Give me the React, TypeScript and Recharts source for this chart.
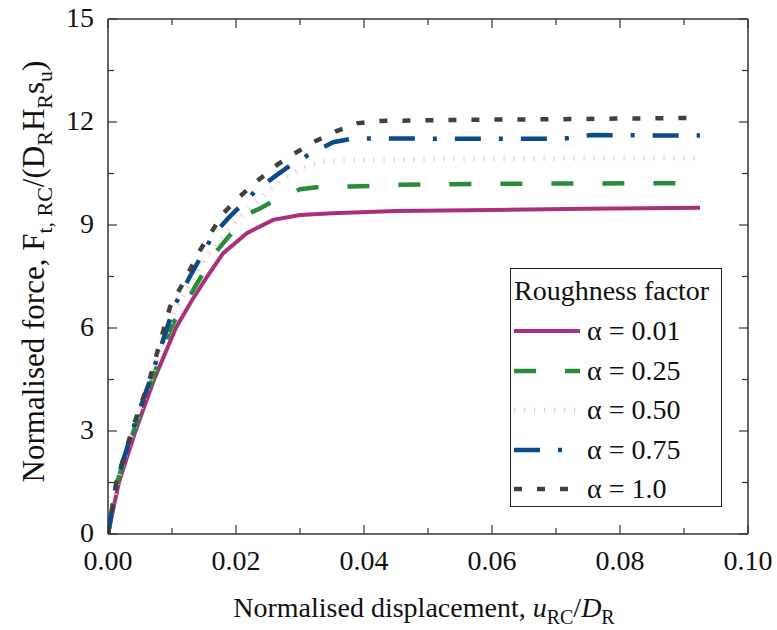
import React from "react";
import { LineChart, Line, XAxis, YAxis, Legend } from "recharts";

// tick values (majors get labels, the rest are minor ticks)
const xTicks = [0, 0.01, 0.02, 0.03, 0.04, 0.05, 0.06, 0.07, 0.08, 0.09, 0.1];
const yTicks = [0, 1.5, 3, 4.5, 6, 7.5, 9, 10.5, 12, 13.5, 15];

// alpha = 0.01
const disp001 = [0, 0.0017, 0.0043, 0.0072, 0.0106, 0.0131, 0.0155, 0.018, 0.0217, 0.0258, 0.03, 0.035, 0.045, 0.06, 0.075, 0.0925];
const force001 = [0, 1.5, 3.0, 4.5, 6.0, 6.8, 7.5, 8.18, 8.76, 9.15, 9.29, 9.34, 9.41, 9.44, 9.47, 9.5];

// alpha = 0.25
const disp025 = [0, 0.0014, 0.004, 0.0069, 0.0095, 0.0103, 0.0133, 0.0167, 0.0188, 0.0222, 0.0238, 0.0253, 0.03, 0.0326, 0.038, 0.0456, 0.06, 0.075, 0.0925];
const force025 = [0, 1.5, 3.0, 4.5, 5.85, 6.18, 7.1, 8.18, 8.65, 9.35, 9.49, 9.64, 10.04, 10.1, 10.12, 10.17, 10.2, 10.21, 10.22];

// alpha = 0.50
const disp050 = [0, 0.0014, 0.0039, 0.0067, 0.01, 0.0125, 0.0154, 0.0206, 0.0245, 0.0274, 0.0305, 0.0336, 0.0383, 0.045, 0.06, 0.08, 0.0925];
const force050 = [0, 1.5, 3.0, 4.5, 6.3, 7.2, 8.08, 9.24, 9.9, 10.36, 10.66, 10.85, 10.89, 10.9, 10.93, 10.95, 10.96];

// alpha = 0.75
const disp075 = [0, 0.0013, 0.0038, 0.0066, 0.0103, 0.0128, 0.0164, 0.0188, 0.0232, 0.0264, 0.029, 0.0318, 0.0352, 0.0383, 0.0456, 0.055, 0.065, 0.0714, 0.0755, 0.085, 0.0925];
const force075 = [0, 1.5, 3.0, 4.5, 6.62, 7.5, 8.7, 9.2, 10.02, 10.46, 10.8, 11.09, 11.41, 11.52, 11.52, 11.51, 11.51, 11.52, 11.62, 11.61, 11.61];

// alpha = 1.0
const disp100 = [0, 0.0013, 0.0037, 0.0065, 0.0097, 0.0113, 0.0144, 0.018, 0.0206, 0.0235, 0.0264, 0.0292, 0.0323, 0.0355, 0.0389, 0.0425, 0.05, 0.06, 0.07, 0.08, 0.0925];
const force100 = [0, 1.5, 3.0, 4.5, 6.62, 7.16, 8.27, 9.34, 9.83, 10.31, 10.75, 11.09, 11.43, 11.72, 11.96, 12.03, 12.05, 12.07, 12.08, 12.1, 12.12];

const labels = ["α = 0.01", "α = 0.25", "α = 0.50", "α = 0.75", "α = 1.0"];

const toPoints = (xs: number[], ys: number[]) => xs.map((x, i) => ({ x, y: ys[i] }));

const series = [
  { name: labels[0], data: toPoints(disp001, force001), color: "#a8327a", width: 4, dash: undefined },
  { name: labels[1], data: toPoints(disp025, force025), color: "#2a8c3a", width: 4.5, dash: "22 29" },
  { name: labels[2], data: toPoints(disp050, force050), color: "#f8c3d1", width: 5, dash: "1.2 8.8" },
  { name: labels[3], data: toPoints(disp075, force075), color: "#0b4a8b", width: 4.5, dash: "26 18 4 18" },
  { name: labels[4], data: toPoints(disp100, force100), color: "#404040", width: 4.5, dash: "8 15" },
];

const FONT = "'Liberation Serif', Tinos, 'Times New Roman', Times, 'DejaVu Serif', 'Noto Serif', serif";
const AXIS = "#333";

const isMajor = (v: number, step: number) => Math.abs(v / step - Math.round(v / step)) < 1e-6;

function BottomTick({ x, y, payload }: any) {
  const major = isMajor(payload.value, 0.02);
  return (
    <g>
      <line x1={x} y1={y} x2={x} y2={y - (major ? 9 : 6)} stroke={AXIS} strokeWidth={1.2} />
      {major && (
        <text x={x} y={y + 36} textAnchor="middle" style={{ fontFamily: FONT }} fontSize={28} fill="#111">
          {payload.value.toFixed(2)}
        </text>
      )}
    </g>
  );
}

function TopTick({ x, y, payload }: any) {
  const major = isMajor(payload.value, 0.02);
  return <line x1={x} y1={y} x2={x} y2={y + (major ? 9 : 6)} stroke={AXIS} strokeWidth={1.2} />;
}

function LeftTick({ x, y, payload }: any) {
  const major = isMajor(payload.value, 3);
  return (
    <g>
      <line x1={x} y1={y} x2={x + (major ? 9 : 6)} y2={y} stroke={AXIS} strokeWidth={1.2} />
      {major && (
        <text x={x - 14} y={y + 8} textAnchor="end" style={{ fontFamily: FONT }} fontSize={28} fill="#111">
          {payload.value}
        </text>
      )}
    </g>
  );
}

function RightTick({ x, y, payload }: any) {
  const major = isMajor(payload.value, 3);
  return <line x1={x} y1={y} x2={x - (major ? 9 : 6)} y2={y} stroke={AXIS} strokeWidth={1.2} />;
}

function XTitle({ viewBox }: any) {
  const cx = viewBox.x + viewBox.width / 2 - 4;
  const cy = viewBox.y + 83;
  return (
    <text x={cx} y={cy} textAnchor="middle" style={{ fontFamily: FONT }} fontSize={28} fill="#111">
      Normalised displacement,{" "}
      <tspan fontStyle="italic">u</tspan>
      <tspan fontSize={20} dy={7}>RC</tspan>
      <tspan dy={-7}>/</tspan>
      <tspan fontStyle="italic">D</tspan>
      <tspan fontSize={20} dy={7}>R</tspan>
    </text>
  );
}

function YTitle({ viewBox }: any) {
  const cx = viewBox.x + viewBox.width - 64;
  const cy = viewBox.y + viewBox.height / 2 - 5;
  return (
    <text x={cx} y={cy} transform={`rotate(-90 ${cx} ${cy})`} textAnchor="middle" style={{ fontFamily: FONT }} fontSize={31} fill="#111">
      Normalised force, F
      <tspan fontSize={22} dy={8}>t, RC</tspan>
      <tspan dy={-8}>/(D</tspan>
      <tspan fontSize={22} dy={8}>R</tspan>
      <tspan dy={-8}>H</tspan>
      <tspan fontSize={22} dy={8}>R</tspan>
      <tspan dy={-8}>s</tspan>
      <tspan fontSize={22} dy={8}>u</tspan>
      <tspan dy={-8}>)</tspan>
    </text>
  );
}

function LegendBox() {
  return (
    <div
      style={{
        position: "relative", width: 212, height: 239, boxSizing: "border-box",
        border: "1px solid #222", background: "#fff", fontFamily: FONT, fontSize: 28, color: "#111",
      }}
    >
      <div style={{ position: "absolute", left: 3, top: 2, height: 40, lineHeight: "40px", whiteSpace: "nowrap" }}>
        Roughness factor
      </div>
      {series.map((s, i) => (
        <div
          key={s.name}
          style={{ position: "absolute", left: 3, top: 42 + i * 39.5, height: 40, display: "flex", alignItems: "center", whiteSpace: "nowrap" }}
        >
          <svg width={66} height={10} style={{ display: "block" }}>
            <line x1={0} y1={5} x2={66} y2={5} stroke={s.color} strokeWidth={s.width} strokeDasharray={s.dash} />
          </svg>
          <span style={{ marginLeft: 7, lineHeight: "40px" }}>{s.name}</span>
        </div>
      ))}
    </div>
  );
}

export default function App() {
  return (
    <div style={{ position: "absolute", left: 0, top: 0, width: 777, height: 630, background: "#fff", fontFamily: FONT }}>
      <LineChart width={777} height={630} margin={{ top: 18, right: 28, bottom: 95, left: 107 }} style={{ fontFamily: FONT }}>
        <XAxis
          xAxisId="b" type="number" dataKey="x" orientation="bottom" domain={[0, 0.1]} ticks={xTicks}
          allowDataOverflow height={1} tickSize={0} tickMargin={0} tick={<BottomTick />} tickLine={false}
          axisLine={{ stroke: AXIS, strokeWidth: 1.5 }} interval={0}
          label={{ content: (p: any) => <XTitle {...p} /> }}
        />
        <XAxis
          xAxisId="t" type="number" dataKey="x" orientation="top" domain={[0, 0.1]} ticks={xTicks}
          allowDataOverflow height={1} tickSize={0} tickMargin={0} tick={<TopTick />} tickLine={false}
          axisLine={{ stroke: AXIS, strokeWidth: 1.5 }} interval={0}
        />
        <YAxis
          yAxisId="l" type="number" dataKey="y" orientation="left" domain={[0, 15]} ticks={yTicks}
          allowDataOverflow width={1} tickSize={0} tickMargin={0} tick={<LeftTick />} tickLine={false}
          axisLine={{ stroke: AXIS, strokeWidth: 1.5 }} interval={0}
          label={{ content: (p: any) => <YTitle {...p} /> }}
        />
        <YAxis
          yAxisId="r" type="number" dataKey="y" orientation="right" domain={[0, 15]} ticks={yTicks}
          allowDataOverflow width={1} tickSize={0} tickMargin={0} tick={<RightTick />} tickLine={false}
          axisLine={{ stroke: AXIS, strokeWidth: 1.5 }} interval={0}
        />
        <Legend
          layout="vertical" align="center" verticalAlign="middle"
          content={() => <LegendBox />}
          wrapperStyle={{ left: 510, top: 268, width: 212, height: 239 }}
        />
        {series.map((s) => (
          <Line
            key={s.name}
            xAxisId="b"
            yAxisId="l"
            data={s.data}
            dataKey="y"
            name={s.name}
            type="linear"
            stroke={s.color}
            strokeWidth={s.width}
            strokeDasharray={s.dash}
            dot={false}
            activeDot={false}
            isAnimationActive={false}
          />
        ))}
      </LineChart>
    </div>
  );
}
